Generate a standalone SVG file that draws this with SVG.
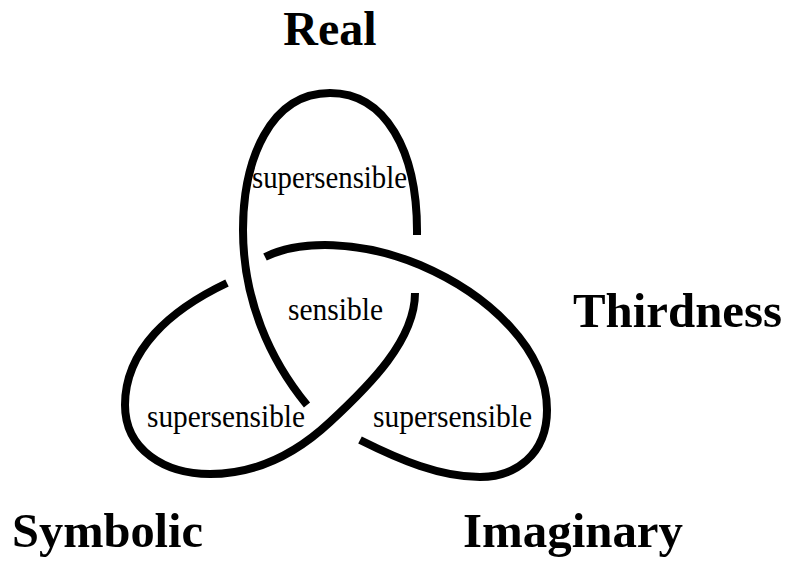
<svg xmlns="http://www.w3.org/2000/svg" width="787" height="563" viewBox="0 0 787 563">
<style>
.strand{fill:none;stroke:#000;stroke-width:8;stroke-linecap:butt}
.big{font-family:"Liberation Serif","Times New Roman",serif;font-weight:bold;font-size:48px;fill:#000}
.small{font-family:"Liberation Serif","Times New Roman",serif;font-size:30.5px;fill:#000}
</style>
<rect width="787" height="563" fill="#fff"/>
<g id="connectors">
<path id="arc-real" class="strand" d="M417,235 C418,150 385,93 330,93 C270,93 243,160 243,230 C243,300 270,360 307,405"/>
<path id="arc-symbolic" class="strand" d="M227,283 C170,310 125,350 125,405 C125,450 165,474 210,474 C260,474 300,450 330,422 C370,385 415,340 415,293"/>
<path id="arc-imaginary" class="strand" d="M265,257 C300,240 360,240 420,265 C490,295 547,350 547,410 C547,455 515,477 480,477 C440,477 400,460 360,440"/>
</g>
<g id="real"><text class="big" x="330" y="45" text-anchor="middle">Real</text></g>
<g id="thirdness"><text class="big" x="573" y="327" textLength="209" lengthAdjust="spacingAndGlyphs">Thirdness</text></g>
<g id="symbolic"><text class="big" x="12" y="547" textLength="191" lengthAdjust="spacingAndGlyphs">Symbolic</text></g>
<g id="imaginary"><text class="big" x="463" y="547" textLength="220" lengthAdjust="spacingAndGlyphs">Imaginary</text></g>
<g id="top-lobe"><text class="small" x="252" y="188" textLength="155" lengthAdjust="spacingAndGlyphs">supersensible</text></g>
<g id="center"><text class="small" x="288" y="320" textLength="95" lengthAdjust="spacingAndGlyphs">sensible</text></g>
<g id="left-lobe"><text class="small" x="147" y="427" textLength="158" lengthAdjust="spacingAndGlyphs">supersensible</text></g>
<g id="right-lobe"><text class="small" x="373" y="427" textLength="159" lengthAdjust="spacingAndGlyphs">supersensible</text></g>
</svg>
